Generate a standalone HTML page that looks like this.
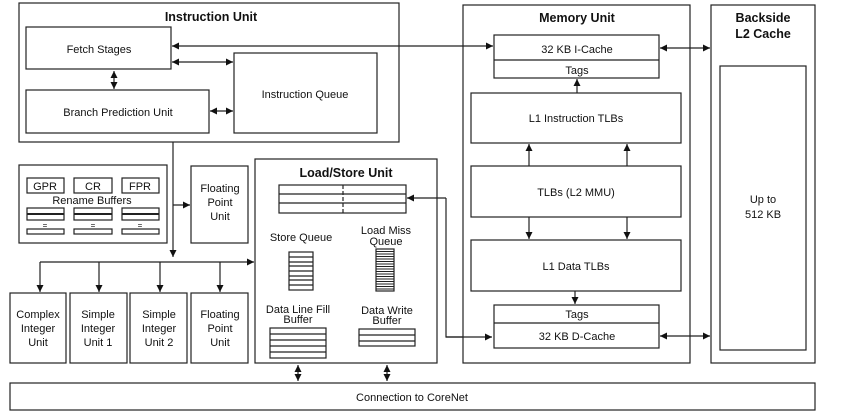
<!DOCTYPE html>
<html><head><meta charset="utf-8"><style>
html,body{margin:0;padding:0;background:#fff}
svg{display:block}
text{font-family:"Liberation Sans",Arial,sans-serif;font-size:11px;fill:#111;text-anchor:middle}
.b{font-weight:bold;font-size:12.5px}
rect{fill:#fff;stroke:#222;stroke-width:1.2}
line,path.l{stroke:#222;stroke-width:1.2;fill:none}
</style></head><body>
<svg width="843" height="417" viewBox="0 0 843 417">
<defs>
<marker id="a" viewBox="0 0 10 10" refX="10" refY="5" markerWidth="7" markerHeight="7" orient="auto-start-reverse" markerUnits="userSpaceOnUse"><path d="M0,0L10,5L0,10z" fill="#111"/></marker>
</defs>
<!-- Instruction unit -->
<rect x="19" y="3" width="380" height="139"/>
<text class="b" x="211" y="21">Instruction Unit</text>
<rect x="26" y="27" width="145" height="42"/><text x="99" y="53">Fetch Stages</text>
<rect x="26" y="90" width="183" height="43"/><text x="118" y="116">Branch Prediction Unit</text>
<rect x="234" y="53" width="143" height="80"/><text x="305" y="98">Instruction Queue</text>
<line x1="172" y1="62" x2="233" y2="62" marker-start="url(#a)" marker-end="url(#a)"/>
<line x1="114" y1="71" x2="114" y2="89" marker-start="url(#a)" marker-end="url(#a)"/>
<line x1="210" y1="111" x2="233" y2="111" marker-start="url(#a)" marker-end="url(#a)"/>
<!-- rename -->
<rect x="19" y="165" width="148" height="78"/>
<rect x="27" y="178" width="37" height="15"/><text x="45" y="190">GPR</text>
<rect x="74" y="178" width="38" height="15"/><text x="93" y="190">CR</text>
<rect x="122" y="178" width="37" height="15"/><text x="140" y="190">FPR</text>
<text x="92" y="204">Rename Buffers</text>
<rect x="27" y="208" width="37" height="12"/><line x1="27" y1="214" x2="64" y2="214" style="stroke-width:2"/>
<rect x="74" y="208" width="38" height="12"/><line x1="74" y1="214" x2="112" y2="214" style="stroke-width:2"/>
<rect x="122" y="208" width="37" height="12"/><line x1="122" y1="214" x2="159" y2="214" style="stroke-width:2"/>
<text x="45" y="228" style="font-size:8px">=</text><text x="93" y="228" style="font-size:8px">=</text><text x="140" y="228" style="font-size:8px">=</text>
<rect x="27" y="229" width="37" height="5"/><rect x="74" y="229" width="38" height="5"/><rect x="122" y="229" width="37" height="5"/>
<rect x="191" y="166" width="57" height="77"/><text x="220" y="192">Floating</text><text x="220" y="206">Point</text><text x="220" y="220">Unit</text>
<!-- dispatch -->
<line x1="173" y1="142" x2="173" y2="257" marker-end="url(#a)"/>
<line x1="173" y1="205" x2="190" y2="205" marker-end="url(#a)"/>
<line x1="40" y1="262" x2="254" y2="262" marker-end="url(#a)"/>
<line x1="40" y1="262" x2="40" y2="292" marker-end="url(#a)"/>
<line x1="99" y1="262" x2="99" y2="292" marker-end="url(#a)"/>
<line x1="160" y1="262" x2="160" y2="292" marker-end="url(#a)"/>
<line x1="220" y1="262" x2="220" y2="292" marker-end="url(#a)"/>
<rect x="10" y="293" width="56" height="70"/><text x="38" y="318">Complex</text><text x="38" y="332">Integer</text><text x="38" y="346">Unit</text>
<rect x="70" y="293" width="57" height="70"/><text x="98" y="318">Simple</text><text x="98" y="332">Integer</text><text x="98" y="346">Unit 1</text>
<rect x="130" y="293" width="57" height="70"/><text x="159" y="318">Simple</text><text x="159" y="332">Integer</text><text x="159" y="346">Unit 2</text>
<rect x="191" y="293" width="57" height="70"/><text x="220" y="318">Floating</text><text x="220" y="332">Point</text><text x="220" y="346">Unit</text>
<!-- LSU -->
<rect x="255" y="159" width="182" height="204"/>
<text class="b" x="346" y="177">Load/Store Unit</text>
<rect x="279" y="185" width="127" height="28"/>
<line x1="279" y1="194" x2="406" y2="194"/><line x1="279" y1="203" x2="406" y2="203"/>
<line x1="343" y1="185" x2="343" y2="213" style="stroke-dasharray:4,2"/>
<text x="301" y="241">Store Queue</text>
<text x="386" y="234">Load Miss</text><text x="386" y="245">Queue</text>
<rect x="289" y="252" width="24" height="38"/>
<path class="l" d="M289,257h24M289,262h24M289,266h24M289,271h24M289,276h24M289,280h24M289,285h24"/>
<rect x="376" y="249" width="18" height="42"/>
<path class="l" style="stroke-width:0.9" d="M376,251.5h18M376,254h18M376,256.5h18M376,259h18M376,261.5h18M376,264h18M376,266.5h18M376,269h18M376,271.5h18M376,274h18M376,276.5h18M376,279h18M376,281.5h18M376,284h18M376,286.5h18M376,289h18"/>
<text x="298" y="313">Data Line Fill</text><text x="298" y="323">Buffer</text>
<text x="387" y="314">Data Write</text><text x="387" y="324">Buffer</text>
<rect x="270" y="328" width="56" height="30"/>
<path class="l" d="M270,334h56M270,340h56M270,346h56M270,352h56"/>
<rect x="359" y="329" width="56" height="17"/>
<path class="l" d="M359,335h56M359,341h56"/>
<line x1="446" y1="198" x2="407" y2="198" marker-end="url(#a)"/>
<path class="l" d="M446,198V337H492" marker-end="url(#a)"/>
<line x1="298" y1="365" x2="298" y2="381" marker-start="url(#a)" marker-end="url(#a)"/>
<line x1="387" y1="365" x2="387" y2="381" marker-start="url(#a)" marker-end="url(#a)"/>
<!-- Memory unit -->
<rect x="463" y="5" width="227" height="358"/>
<text class="b" x="577" y="22">Memory Unit</text>
<rect x="494" y="35" width="165" height="43"/><line x1="494" y1="60" x2="659" y2="60"/>
<text x="577" y="53">32 KB I-Cache</text><text x="577" y="74">Tags</text>
<line x1="172" y1="46" x2="493" y2="46" marker-start="url(#a)" marker-end="url(#a)"/>
<rect x="471" y="93" width="210" height="50"/><text x="576" y="122">L1 Instruction TLBs</text>
<rect x="471" y="166" width="210" height="51"/><text x="576" y="196">TLBs (L2 MMU)</text>
<rect x="471" y="240" width="210" height="51"/><text x="576" y="270">L1 Data TLBs</text>
<rect x="494" y="305" width="165" height="43"/><line x1="494" y1="323" x2="659" y2="323"/>
<text x="577" y="318">Tags</text><text x="577" y="340">32 KB D-Cache</text>
<line x1="446" y1="337" x2="492" y2="337" marker-end="url(#a)"/>
<line x1="577" y1="93" x2="577" y2="79" marker-end="url(#a)"/>
<line x1="529" y1="166" x2="529" y2="144" marker-end="url(#a)"/>
<line x1="627" y1="166" x2="627" y2="144" marker-end="url(#a)"/>
<line x1="529" y1="217" x2="529" y2="239" marker-end="url(#a)"/>
<line x1="627" y1="217" x2="627" y2="239" marker-end="url(#a)"/>
<line x1="575" y1="291" x2="575" y2="304" marker-end="url(#a)"/>
<line x1="660" y1="48" x2="710" y2="48" marker-start="url(#a)" marker-end="url(#a)"/>
<line x1="660" y1="336" x2="710" y2="336" marker-start="url(#a)" marker-end="url(#a)"/>
<!-- L2 -->
<rect x="711" y="5" width="104" height="358"/>
<text class="b" x="763" y="22">Backside</text><text class="b" x="763" y="38">L2 Cache</text>
<rect x="720" y="66" width="86" height="284"/>
<text x="763" y="203">Up to</text><text x="763" y="218">512 KB</text>
<!-- CoreNet -->
<rect x="10" y="383" width="805" height="27"/>
<text x="412" y="401">Connection to CoreNet</text>
</svg>
</body></html>
